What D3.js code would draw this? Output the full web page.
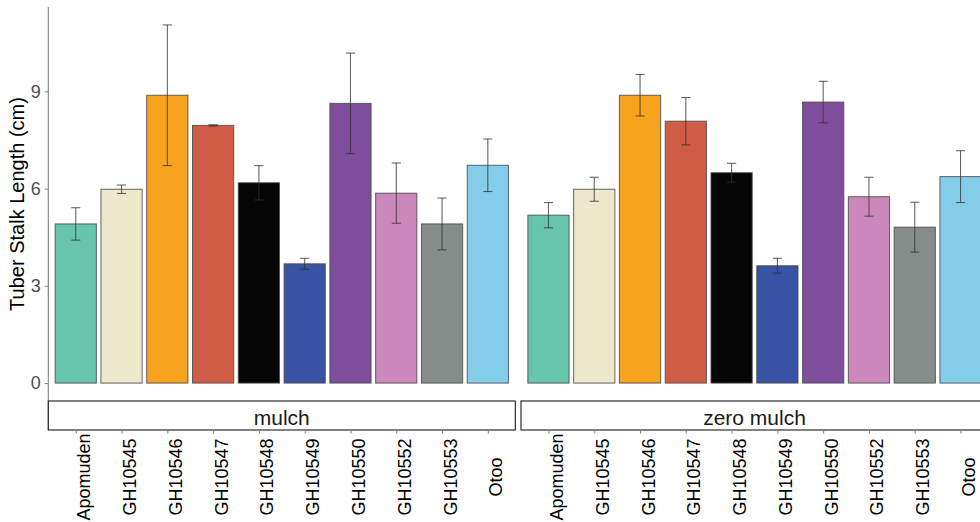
<!DOCTYPE html>
<html>
<head>
<meta charset="utf-8">
<script src="https://cdn.jsdelivr.net/npm/d3@7"></script>
<style>
  html, body { margin: 0; padding: 0; background: #fff; overflow: hidden; }
  svg { display: block; font-family: "Liberation Sans", Arial, sans-serif; }
</style>
</head>
<body>
<svg id="chart" width="990" height="522"></svg>
<script>
// Genotypes on the x axis (same order in both panels)
const genotypes = ["Apomuden", "GH10545", "GH10546", "GH10547", "GH10548",
                   "GH10549", "GH10550", "GH10552", "GH10553", "Otoo"];
const fillColors = ["#66C5AB", "#EDE9CC", "#F8A31D", "#CF5C45", "#050505",
                    "#3853A4", "#7F4F9E", "#CC88BC", "#858C8A", "#83CDEB"];

// Mean tuber stalk length (cm) and standard error, per mulch treatment
const panels = ["mulch", "zero mulch"];
const meanMulch = [4.91, 5.98, 8.88, 7.95, 6.18, 3.68, 8.63, 5.86, 4.91, 6.72];
const seMulch   = [0.50, 0.13, 2.17, 0.02, 0.53, 0.17, 1.55, 0.93, 0.80, 0.81];
const meanZero  = [5.18, 5.98, 8.88, 8.08, 6.49, 3.62, 8.67, 5.75, 4.81, 6.37];
const seZero    = [0.39, 0.37, 0.64, 0.73, 0.29, 0.23, 0.64, 0.60, 0.77, 0.80];

const yTicks = [0, 3, 6, 9];

const panelData = [
  { name: panels[0], mean: meanMulch, se: seMulch },
  { name: panels[1], mean: meanZero,  se: seZero }
];

const svg = d3.select("#chart");

// Layout
const panelTop = 7, panelBottom = 401;
const stripH = 29;
const panelX = [[48.3, 515.3], [521, 988]];

// Shared y scale with 5% expansion on both ends
const allHi = panelData.flatMap(p => p.mean.map((m, i) => m + p.se[i]));
const hi = d3.max(allHi), lo = 0;
const pad = (hi - lo) * 0.05;
const y = d3.scaleLinear().domain([lo - pad, hi + pad]).range([panelBottom, panelTop]);

// Y axis (left panel only)
const yAxis = d3.axisLeft(y).tickValues(yTicks).tickSize(3.6).tickPadding(4).tickFormat(d3.format("d"));
const gy = svg.append("g").attr("transform", `translate(${panelX[0][0]},0)`).call(yAxis);
gy.select(".domain").remove();
gy.selectAll(".tick line").attr("stroke", "#7f7f7f").attr("stroke-width", 1);
gy.selectAll(".tick text").attr("fill", "#4d4d4d").style("font-size", "18px")
  .style("font-family", "'Liberation Sans', Arial, sans-serif");
svg.append("line")
  .attr("x1", panelX[0][0]).attr("x2", panelX[0][0])
  .attr("y1", panelTop).attr("y2", panelBottom + stripH)
  .attr("stroke", "#7f7f7f").attr("stroke-width", 1.1);

// Y axis title
svg.append("text")
  .attr("transform", `translate(24,${(panelTop + panelBottom) / 2}) rotate(-90)`)
  .attr("text-anchor", "middle")
  .style("font-size", "20px")
  .attr("fill", "#000")
  .text("Tuber Stalk Length (cm)");

panelData.forEach((p, pi) => {
  const [x0, x1] = panelX[pi];
  const x = d3.scalePoint().domain(genotypes).range([x0, x1]).padding(0.6);
  const bw = x.step() * 0.9;
  const capW = x.step() * 0.2;
  const g = svg.append("g");

  // Bars
  g.selectAll("rect.bar").data(genotypes).join("rect")
    .attr("class", "bar")
    .attr("x", d => x(d) - bw / 2)
    .attr("width", bw)
    .attr("y", (d, i) => y(p.mean[i]))
    .attr("height", (d, i) => y(0) - y(p.mean[i]))
    .attr("fill", (d, i) => fillColors[i])
    .attr("stroke", "#4a4a4a")
    .attr("stroke-opacity", 0.85)
    .attr("stroke-width", 1);

  // Error bars
  const eb = g.selectAll("g.err").data(genotypes).join("g").attr("class", "err")
    .attr("stroke", "#333").attr("stroke-opacity", 0.75).attr("stroke-width", 1.1);
  eb.append("line")
    .attr("x1", d => x(d)).attr("x2", d => x(d))
    .attr("y1", (d, i) => y(p.mean[i] + p.se[i]))
    .attr("y2", (d, i) => y(p.mean[i] - p.se[i]));
  eb.append("line")
    .attr("x1", d => x(d) - capW / 2).attr("x2", d => x(d) + capW / 2)
    .attr("y1", (d, i) => y(p.mean[i] + p.se[i]))
    .attr("y2", (d, i) => y(p.mean[i] + p.se[i]));
  eb.append("line")
    .attr("x1", d => x(d) - capW / 2).attr("x2", d => x(d) + capW / 2)
    .attr("y1", (d, i) => y(p.mean[i] - p.se[i]))
    .attr("y2", (d, i) => y(p.mean[i] - p.se[i]));

  // Facet strip below the panel
  svg.append("rect")
    .attr("x", x0).attr("y", panelBottom)
    .attr("width", x1 - x0).attr("height", stripH)
    .attr("fill", "#fff").attr("stroke", "#1a1a1a").attr("stroke-width", 1.1);
  svg.append("text")
    .attr("x", (x0 + x1) / 2).attr("y", panelBottom + 23.5)
    .attr("text-anchor", "middle")
    .style("font-size", "21px").attr("fill", "#1a1a1a")
    .text(p.name);

  // X axis ticks and rotated labels under the strip
  const xAxis = d3.axisBottom(x).tickSize(3.6).tickSizeOuter(0).tickFormat("");
  const gx = svg.append("g").attr("transform", `translate(0,${panelBottom + stripH})`).call(xAxis);
  gx.select(".domain").remove();
  gx.selectAll(".tick line").attr("stroke", "#7f7f7f");
  gx.selectAll(".tick").append("text")
    .attr("transform", "translate(14,47) rotate(-90)")
    .attr("text-anchor", "middle")
    .attr("fill", "#000")
    .style("font-size", "18px")
    .style("font-family", "'Liberation Sans', Arial, sans-serif")
    .text(d => d);
});
</script>
</body>
</html>
